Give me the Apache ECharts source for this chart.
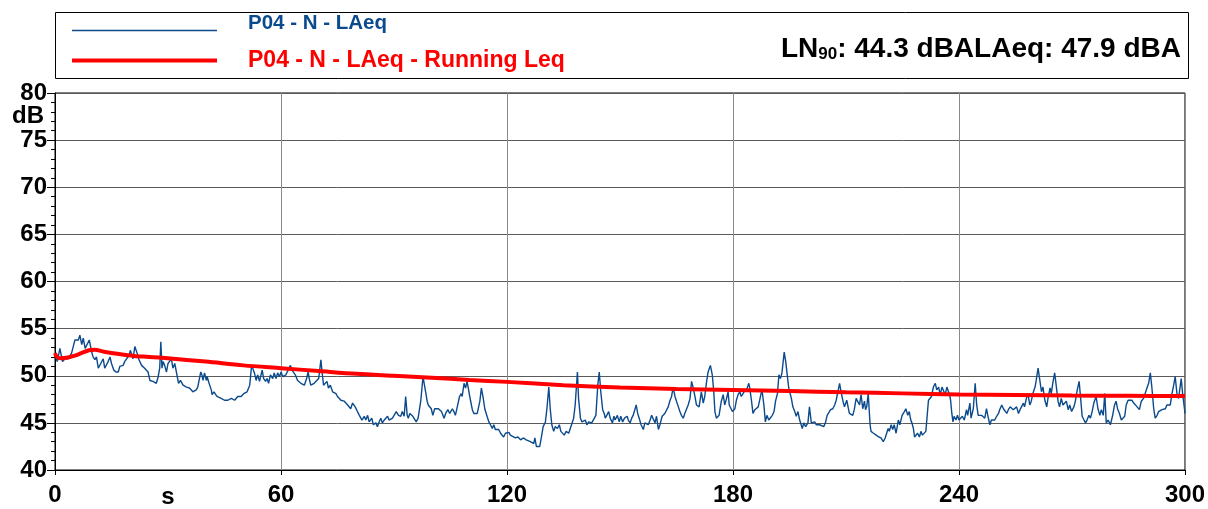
<!DOCTYPE html>
<html><head><meta charset="utf-8">
<script src="https://cdn.jsdelivr.net/npm/echarts@6/dist/echarts.min.js"></script>
<style>html,body{margin:0;padding:0;background:#fff}#c{width:1208px;height:509px}</style>
</head><body><div id="c"></div>
<script>
const seriesNames = ['P04 - N - LAeq', 'P04 - N - LAeq - Running Leq'];
const ln90Value = 44.3;
const laeqTotal = 47.9;
const xTickStep = 60;
const yTickStep = 5;

// [time s, level dB]
const laeq = [
[0.0,52.2],[0.6,51.5],[1.3,52.9],[2.0,51.5],[2.65,51.8],[3.5,51.8],[4.0,52.0],[4.4,52.4],[5.3,53.8],[5.7,54.0],
[6.2,53.8],[6.6,54.3],[7.1,53.3],[7.5,54.0],[8.0,52.9],[8.4,52.7],[9.1,53.8],[9.7,52.6],[10.1,52.0],[10.6,51.7],
[11.0,52.0],[11.5,50.8],[11.9,51.0],[12.8,51.8],[13.2,50.8],[13.7,50.8],[14.1,51.5],[14.6,52.0],[15.0,51.3],[15.6,50.6],
[16.2,50.4],[16.8,50.4],[17.2,51.0],[17.7,50.8],[18.1,51.1],[18.5,51.5],[19.0,51.3],[19.7,52.2],[20.0,52.7],[20.4,52.2],
[20.7,51.8],[21.2,53.1],[21.5,53.3],[21.8,52.4],[22.3,51.7],[23.0,51.1],[23.4,51.0],[23.8,50.8],[24.3,51.0],[24.7,50.4],
[25.2,49.5],[25.6,49.4],[26.0,49.4],[26.5,49.5],[26.9,49.2],[27.4,49.9],[27.8,50.8],[28.1,53.6],[28.4,50.8],[28.7,51.5],
[29.1,51.1],[29.6,50.4],[30.0,51.3],[30.4,51.5],[30.9,51.8],[31.3,50.8],[31.8,51.3],[32.2,51.1],[32.8,49.2],[33.3,49.5],
[34.0,49.0],[34.4,49.2],[34.9,48.8],[35.3,49.0],[35.7,48.7],[36.6,48.3],[37.1,48.1],[37.5,48.5],[37.9,48.8],[38.2,48.7],
[38.7,50.4],[39.0,50.1],[39.3,49.5],[39.7,50.3],[40.2,49.5],[40.4,49.9],[40.9,49.2],[41.5,48.5],[41.7,48.0],[42.2,48.3],
[42.5,48.1],[43.0,47.8],[43.2,48.0],[44.1,47.6],[45.0,47.4],[45.4,47.3],[45.9,47.4],[46.3,47.3],[46.8,47.6],[47.2,47.8],
[47.7,47.4],[48.5,47.8],[49.0,48.0],[49.4,47.8],[50.1,48.1],[50.5,48.0],[51.0,48.3],[51.4,48.5],[51.7,49.0],[52.2,51.1],
[52.5,50.8],[52.95,50.3],[53.4,49.5],[53.8,50.1],[54.3,49.4],[54.7,50.1],[55.0,50.6],[55.4,49.7],[55.9,49.4],[56.3,49.7],
[56.7,49.2],[57.2,50.1],[57.8,49.7],[58.2,50.3],[58.7,49.7],[59.1,50.3],[59.6,49.9],[60.0,50.4],[60.5,49.9],[60.9,49.7],
[61.3,50.1],[61.8,49.9],[62.5,51.1],[62.9,50.6],[63.3,50.8],[63.8,50.1],[64.4,49.5],[64.9,49.7],[65.3,49.2],[65.7,49.4],
[66.2,49.0],[66.8,49.7],[67.2,50.4],[67.5,49.7],[67.9,49.0],[68.4,48.8],[68.8,49.2],[69.3,49.0],[70.0,49.7],[70.6,51.7],
[70.9,50.4],[71.3,49.0],[71.8,48.8],[72.2,49.4],[72.6,48.7],[73.1,49.0],[73.7,48.3],[74.1,48.5],[74.6,48.1],[75.0,47.8],
[75.5,48.0],[75.9,47.4],[76.3,47.6],[76.8,47.3],[77.2,47.4],[77.7,46.9],[78.1,47.1],[78.5,46.5],[79.0,47.1],[79.2,47.3],
[79.7,46.7],[80.3,46.2],[80.8,45.8],[81.5,45.3],[82.1,45.7],[82.5,45.3],[83.0,45.8],[83.4,45.1],[84.1,45.5],[84.5,44.8],
[85.2,45.0],[85.6,44.6],[86.05,45.1],[86.5,45.5],[86.9,45.0],[87.4,45.3],[87.8,45.1],[88.3,45.7],[88.7,45.3],[89.1,45.1],
[89.6,45.5],[90.0,45.3],[90.6,46.2],[91.2,45.8],[91.5,46.0],[91.8,45.7],[92.2,46.2],[92.7,45.7],[93.1,47.8],[93.5,45.8],
[93.8,45.5],[94.2,46.0],[94.6,45.8],[95.0,45.7],[95.5,45.5],[95.9,45.1],[96.4,45.5],[97.1,47.3],[97.7,49.9],[97.97,49.7],
[98.4,48.3],[98.8,47.3],[99.1,46.9],[99.6,47.1],[99.9,46.5],[100.3,45.8],[100.8,46.5],[101.3,46.7],[101.8,46.5],[102.2,46.7],
[102.6,46.2],[103.3,45.5],[103.7,46.0],[104.3,46.4],[104.8,46.0],[105.5,46.5],[105.9,46.2],[106.3,45.8],[106.8,46.7],[107.4,47.8],
[107.85,48.1],[108.1,47.8],[108.6,49.2],[109.0,48.7],[109.4,49.4],[109.9,48.3],[110.3,47.4],[110.8,46.4],[111.2,46.0],[111.6,46.2],
[112.1,46.0],[112.8,47.3],[113.2,48.7],[113.7,47.6],[114.1,46.5],[114.7,45.7],[115.2,45.1],[115.6,44.8],[116.1,44.4],[116.5,44.8],
[116.9,44.3],[117.4,44.1],[117.8,44.3],[118.3,43.9],[118.7,43.7],[119.1,43.5],[119.6,43.9],[120.0,43.7],[120.5,44.0],[120.9,43.7],
[121.4,43.9],[122.2,43.4],[122.9,43.5],[123.6,43.2],[124.0,43.0],[124.4,43.4],[125.1,43.2],[125.6,43.4],[126.2,43.0],[126.6,43.2],
[127.1,42.8],[127.4,43.4],[127.8,42.5],[128.2,42.3],[128.7,42.5],[129.1,43.4],[129.6,44.6],[130.2,45.1],[130.6,46.5],[131.1,48.8],
[131.5,46.4],[131.9,44.8],[132.4,44.1],[132.8,44.6],[133.4,44.4],[133.9,44.8],[134.3,44.1],[134.8,44.3],[135.2,43.7],[135.7,44.1],
[136.4,43.9],[136.8,44.4],[137.2,44.6],[137.7,45.5],[138.1,46.9],[138.7,50.4],[139.0,47.6],[139.5,45.5],[139.9,45.1],[140.3,45.0],
[140.8,45.3],[141.2,44.8],[141.7,45.1],[142.5,45.0],[143.0,45.1],[143.6,45.8],[144.1,49.0],[144.5,50.4],[144.9,48.3],[145.4,46.4],
[145.8,46.0],[146.1,45.5],[146.5,45.3],[147.0,46.2],[147.4,45.5],[148.0,45.0],[148.4,45.7],[148.7,45.3],[149.3,45.8],[149.8,45.1],
[150.2,45.7],[150.7,45.1],[151.2,45.5],[151.5,45.3],[151.9,45.7],[152.2,45.3],[152.7,45.0],[153.1,45.5],[153.5,45.8],[154.3,46.9],
[154.7,46.0],[155.1,45.5],[155.6,44.8],[156.0,45.0],[156.2,44.3],[156.6,45.0],[157.1,45.1],[157.5,44.8],[158.0,45.3],[158.4,45.8],
[158.8,45.7],[159.3,45.0],[159.7,45.7],[160.2,44.3],[160.6,44.8],[161.2,45.7],[161.9,46.0],[162.4,46.2],[162.8,46.7],[163.3,47.4],
[163.7,47.8],[164.1,48.8],[164.6,47.8],[165.0,47.3],[165.5,46.7],[165.9,46.2],[166.3,45.8],[166.8,45.5],[167.2,46.0],[167.7,45.8],
[168.1,46.9],[168.6,47.6],[169.0,49.4],[169.4,48.8],[169.9,47.8],[170.3,46.9],[170.8,47.1],[171.0,46.7],[171.6,48.3],[172.1,47.1],
[172.5,47.8],[173.0,49.4],[173.4,50.4],[174.0,51.1],[174.5,50.1],[174.9,48.3],[175.2,46.2],[175.6,45.5],[176.3,45.8],[176.9,47.3],
[177.4,48.0],[177.8,46.9],[178.3,47.6],[178.7,48.3],[179.0,46.9],[179.3,46.7],[179.85,46.2],[180.5,46.5],[180.9,47.4],[181.35,48.0],
[181.8,48.3],[182.2,47.8],[182.95,48.3],[183.6,48.5],[184.2,49.2],[184.45,48.7],[184.9,47.4],[185.3,46.0],[185.8,46.4],[186.2,46.4],
[186.7,46.7],[187.4,48.0],[187.7,48.5],[188.2,46.9],[188.6,45.1],[189.0,45.8],[189.5,45.3],[189.9,45.5],[190.45,45.8],[190.9,46.2],
[191.3,47.3],[191.8,48.1],[192.2,50.1],[192.6,49.7],[193.0,50.3],[193.6,52.5],[194.0,51.5],[194.4,50.1],[194.8,48.7],[195.5,47.6],
[195.9,46.7],[196.4,46.2],[196.8,45.7],[197.25,46.2],[197.7,45.3],[198.1,44.8],[198.4,44.4],[198.8,45.0],[199.3,44.6],[199.9,45.0],
[200.3,46.7],[200.8,45.0],[201.2,44.8],[201.7,45.1],[202.1,44.8],[202.5,45.0],[203.0,44.8],[203.4,45.0],[204.1,44.6],[204.6,45.1],
[205.0,45.8],[205.5,46.0],[205.9,46.4],[206.5,46.5],[207.0,46.9],[207.4,47.4],[208.3,49.2],[208.7,48.3],[209.2,47.3],[209.6,46.7],
[210.2,47.4],[210.5,47.3],[210.9,46.0],[211.4,46.2],[211.8,45.8],[212.2,46.4],[212.7,47.6],[213.1,47.8],[213.6,46.9],[214.0,48.0],
[214.45,46.5],[214.9,47.3],[215.2,46.4],[215.5,46.7],[215.9,48.1],[216.4,44.8],[216.65,44.1],[217.3,43.9],[218.0,43.7],[218.7,43.5],
[219.3,43.4],[219.9,43.0],[220.4,43.4],[220.8,43.9],[221.2,44.4],[221.5,44.1],[222.0,44.8],[222.4,44.3],[222.8,44.8],[223.3,43.9],
[223.9,45.3],[224.3,44.8],[224.9,45.8],[225.5,46.2],[225.9,46.5],[226.4,45.8],[226.8,46.2],[227.2,45.3],[227.5,45.0],[227.9,44.4],
[228.2,43.5],[228.6,43.7],[229.0,43.9],[229.5,43.5],[229.9,44.1],[230.3,43.7],[230.8,43.5],[231.2,44.1],[231.5,45.5],[231.9,47.4],
[232.3,47.3],[232.7,47.8],[233.2,48.8],[233.7,49.2],[234.1,48.5],[234.6,48.8],[235.0,48.0],[235.5,48.8],[235.9,48.7],[236.3,48.0],
[236.8,48.8],[237.2,48.3],[237.6,47.8],[237.8,47.3],[238.1,46.0],[238.4,45.1],[238.7,45.7],[239.2,45.3],[239.6,45.8],[240.0,45.3],
[240.9,45.7],[241.4,45.3],[242.0,46.4],[242.3,45.8],[242.9,47.1],[243.2,45.5],[243.3,45.3],[243.8,46.5],[244.3,49.2],[244.7,46.9],
[245.1,45.8],[245.5,46.0],[246.0,45.8],[246.4,46.0],[246.85,45.5],[247.3,46.5],[247.7,45.7],[248.2,44.8],[248.6,45.3],[249.1,45.5],
[249.5,45.3],[250.0,45.7],[250.5,46.0],[250.8,46.4],[251.35,46.9],[251.8,46.5],[252.2,46.4],[252.7,46.0],[253.1,46.4],[253.6,46.7],
[254.0,46.5],[254.4,46.4],[254.9,46.2],[255.3,46.7],[255.8,46.0],[256.2,46.4],[256.6,46.2],[257.1,47.1],[257.4,46.7],[257.9,47.6],
[258.3,48.1],[258.8,46.9],[259.2,47.3],[259.6,48.1],[260.2,48.8],[260.5,49.5],[261.0,50.8],[261.4,49.7],[261.9,48.3],[262.3,48.8],
[262.8,47.4],[263.3,46.7],[263.7,47.8],[264.2,48.7],[264.5,48.1],[264.9,49.2],[265.4,50.3],[265.8,49.0],[266.3,47.3],[266.7,46.7],
[267.15,47.6],[267.6,46.9],[268.0,46.7],[268.5,47.3],[269.0,46.4],[269.4,46.9],[269.9,46.2],[270.5,46.7],[270.9,47.3],[271.4,48.5],
[271.9,49.4],[272.3,47.6],[272.7,45.7],[273.2,45.3],[273.6,45.0],[274.0,45.3],[274.5,45.8],[274.9,45.5],[275.35,46.2],[275.8,47.1],
[276.4,47.8],[276.9,46.5],[277.4,45.8],[277.8,46.4],[278.3,45.8],[278.7,48.1],[279.1,45.0],[279.6,45.3],[280.2,44.8],[280.8,45.8],
[281.3,46.9],[281.7,47.3],[282.1,46.5],[282.6,46.0],[283.1,45.3],[283.6,45.1],[284.0,45.7],[284.4,46.9],[284.9,47.4],[285.3,47.3],
[285.9,47.4],[286.4,47.1],[286.8,47.3],[287.3,46.7],[287.9,46.4],[288.4,47.3],[289.0,47.6],[289.5,47.4],[289.9,48.7],[290.35,49.2],
[290.8,50.3],[291.2,48.8],[291.7,46.5],[292.1,45.5],[292.6,45.8],[293.0,46.2],[293.4,46.0],[293.9,46.4],[294.3,46.2],[294.8,46.5],
[295.2,46.9],[295.65,46.7],[296.1,46.9],[296.5,48.0],[297.0,49.0],[297.4,49.9],[297.9,48.0],[298.3,47.6],[299.0,49.7],[299.4,48.0],
[299.9,46.4],[300.0,46.0]
];

const runningLeq = [
[0,52.4],[0.5,52.0],[1.5,51.85],[3,51.9],[5,52.1],[7,52.4],[9,52.7],[10.5,52.75],[13,52.55],[17,52.3],
[21,52.1],[25,52.0],[30,51.85],[40,51.5],[50,51.1],[60,50.8],[70,50.5],[80,50.2],[90,50.0],[100,49.8],
[110,49.55],[120,49.35],[135,49.0],[150,48.75],[165,48.6],[180,48.5],[195,48.38],[210,48.25],[225,48.13],[240,48.02],
[255,47.97],[270,47.9],[285,47.87],[300,47.85]
];

const BLUE = '#0b4a8c';
const RED = '#ff0000';
const FONT = '"Liberation Sans", Arial, sans-serif';

const chart = echarts.init(document.getElementById('c'), null, {renderer: 'canvas'});
chart.setOption({
  animation: false,
  backgroundColor: '#fff',
  textStyle: {fontFamily: FONT},
  grid: {left: 55, right: 20, top: 93, bottom: 39, show: true, borderColor: '#000', borderWidth: 1, backgroundColor: 'transparent'},
  legend: {
    orient: 'vertical', left: 65, top: 8, itemWidth: 145, itemHeight: 12, itemGap: 7,
    itemStyle: {color: 'rgba(0,0,0,0)', borderWidth: 0},
    data: [
      {name: seriesNames[0], lineStyle: {width: 1.4, color: BLUE}},
      {name: seriesNames[1], lineStyle: {width: 4, color: RED}}
    ],
    formatter: function (name) {
      return name === seriesNames[0] ? '{t|' + name + '}\n{e| }' : '{r|' + name + '}';
    },
    textStyle: {
      fontWeight: 'bold', fontFamily: FONT, padding: [0, 0, 0, 26],
      rich: {
        t: {color: BLUE, fontSize: 20.5, fontWeight: 'bold', fontFamily: FONT, lineHeight: 22},
        e: {fontSize: 1, lineHeight: 14},
        r: {color: RED, fontSize: 23, fontWeight: 'bold', fontFamily: FONT, lineHeight: 24}
      }
    }
  },
  xAxis: {
    type: 'value', min: 0, max: 300, interval: xTickStep,
    axisLine: {show: true, lineStyle: {color: '#000', width: 1}},
    axisTick: {show: true, length: 5, lineStyle: {color: '#000'}},
    axisLabel: {fontSize: 24, fontWeight: 'bold', color: '#000', margin: 13, fontFamily: FONT},
    splitLine: {show: true, lineStyle: {color: '#8a8a8a', width: 1}}
  },
  yAxis: {
    type: 'value', min: 40, max: 80, interval: yTickStep,
    axisLine: {show: true, lineStyle: {color: '#000', width: 1}},
    axisTick: {show: true, length: 8, lineStyle: {color: '#000'}},
    minorTick: {show: true, splitNumber: 5, length: 4, lineStyle: {color: '#000'}},
    axisLabel: {fontSize: 24, fontWeight: 'bold', color: '#000', margin: 8, fontFamily: FONT},
    splitLine: {show: true, lineStyle: {color: '#5a5a5a', width: 1}}
  },
  series: [
    {name: seriesNames[0], type: 'line', data: laeq, showSymbol: false, symbol: 'none',
     lineStyle: {color: BLUE, width: 1.4}, itemStyle: {color: BLUE}, z: 2},
    {name: seriesNames[1], type: 'line', data: runningLeq, showSymbol: false, symbol: 'none', smooth: 0.3,
     lineStyle: {color: RED, width: 4}, itemStyle: {color: RED}, z: 3}
  ],
  graphic: [
    {type: 'rect', shape: {x: 55.5, y: 12.5, width: 1133, height: 66}, style: {fill: 'none', stroke: '#000', lineWidth: 1}, z: 0},
    {type: 'text', x: 1181, y: 49, style: {
      text: '{b|LN}{s|90}{b|: ' + ln90Value.toFixed(1) + ' dBA}{b|LAeq: ' + laeqTotal.toFixed(1) + ' dBA}',
      align: 'right', verticalAlign: 'middle', fill: '#000',
      rich: {
        b: {fontSize: 28, fontWeight: 'bold', fontFamily: FONT, fill: '#000', lineHeight: 30},
        s: {fontSize: 17, fontWeight: 'bold', fontFamily: FONT, fill: '#000', lineHeight: 30, padding: [11, 0, 0, 0]}
      }}},
    {type: 'text', x: 28, y: 116, style: {text: 'dB', align: 'center', verticalAlign: 'middle', font: 'bold 24px ' + FONT, fill: '#000'}},
    {type: 'text', x: 168, y: 497, style: {text: 's', align: 'center', verticalAlign: 'middle', font: 'bold 24px ' + FONT, fill: '#000'}}
  ]
});
</script></body></html>
